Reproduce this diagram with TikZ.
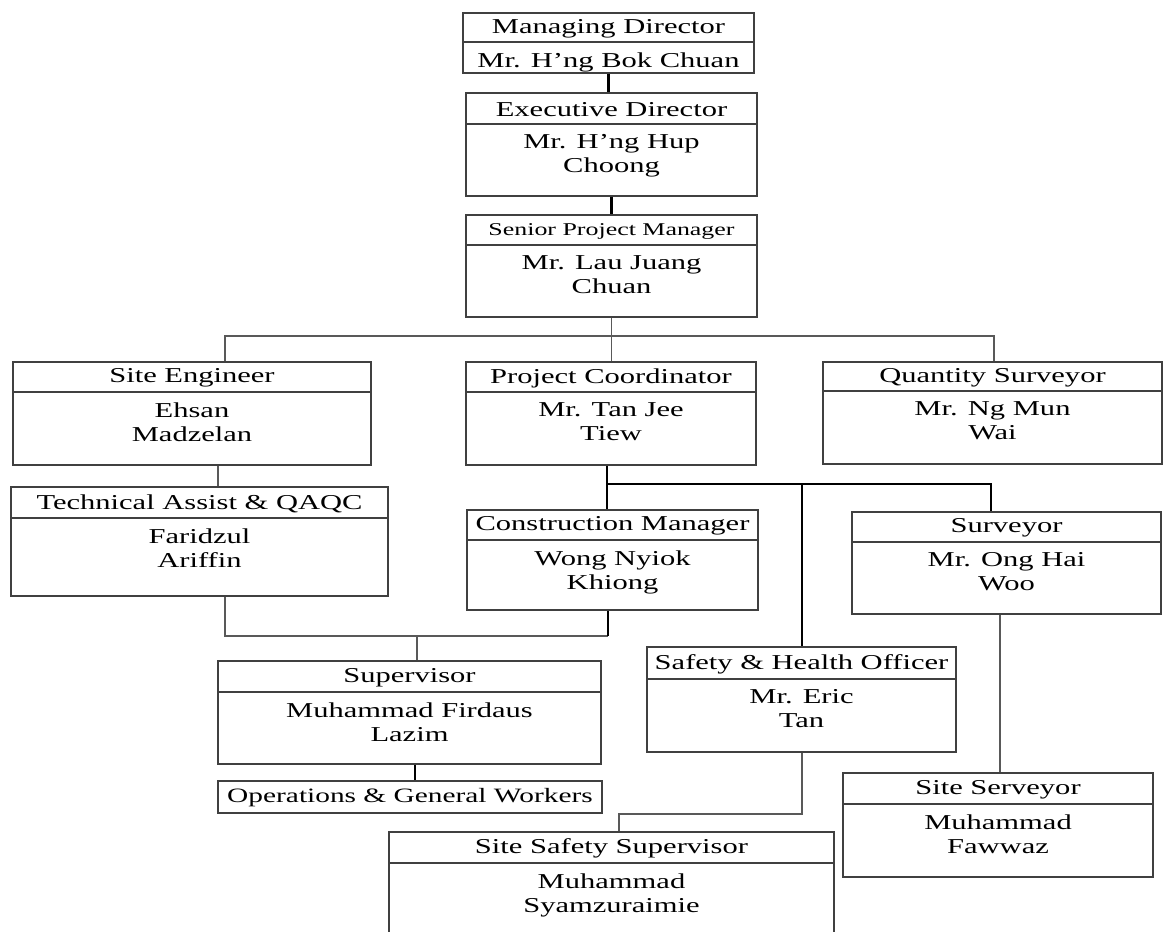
\documentclass[tikz,border=0pt]{standalone}
\usepackage{fontspec}
\setmainfont[FakeStretch=1.44]{Liberation Serif}
\usetikzlibrary{fit,calc}
\tikzset{
  boxpart/.style={draw=black!75, line width=0.6pt, inner sep=0pt},
  ttlfont/.style={font=\fontsize{10.6}{12}\selectfont, inner sep=0pt},
  smallttl/.style={font=\fontsize{9}{11}\selectfont, inner sep=0pt},
  opsfont/.style={font=\fontsize{10.2}{12}\selectfont, inner sep=0pt},
  nm/.style={font=\fontsize{10.6}{12}\selectfont, align=center, anchor=north, inner sep=0pt},
  thk/.style={draw=black, line width=1.4pt},
  thn/.style={draw=black!65, line width=0.7pt},
}
% #1 name, #2 x1, #3 y1, #4 x2, #5 ydiv, #6 y2, #7 title style, #8 title, #9 body
\newcommand\orgbox[9]{%
  \node[boxpart, fit={(#2,#3)(#4,#5)}] (#1T) {};
  \node[#7] (#1L) at ($(#1T.center)+(0,1)$) {#8};
  \node[boxpart, fit={(#2,#5)(#4,#6)}] (#1B) {};
  \node[nm] (#1N) at ($(#1B.north)+(0,11)$) {#9};
}
\begin{document}
\begin{tikzpicture}[x=0.5pt,y=-0.5pt]
\useasboundingbox (0,0) rectangle (1165,931);
\fill[white] (0,0) rectangle (1165,931);

\orgbox{md}{463}{13}{754}{42}{73}{ttlfont}{Managing Director}{Mr. H’ng Bok Chuan}
\orgbox{ed}{466}{93}{757}{124}{196}{ttlfont}{Executive Director}{Mr. H’ng Hup\\Choong}
\orgbox{sp}{466}{215}{757}{245}{317}{smallttl}{Senior Project Manager}{Mr. Lau Juang\\Chuan}
\orgbox{se}{13}{362}{371}{392}{465}{ttlfont}{Site Engineer}{Ehsan\\Madzelan}
\orgbox{pc}{466}{362}{756}{392}{465}{ttlfont}{Project Coordinator}{Mr. Tan Jee\\Tiew}
\orgbox{qs}{823}{362}{1162}{391}{464}{ttlfont}{Quantity Surveyor}{Mr. Ng Mun\\Wai}
\orgbox{ta}{11}{487}{388}{518}{596}{ttlfont}{Technical Assist \& QAQC}{Faridzul\\Ariffin}
\orgbox{cm}{467}{510}{758}{540}{610}{ttlfont}{Construction Manager}{Wong Nyiok\\Khiong}
\orgbox{sv}{852}{512}{1161}{542}{614}{ttlfont}{Surveyor}{Mr. Ong Hai\\Woo}
\orgbox{su}{218}{661}{601}{692}{764}{ttlfont}{Supervisor}{Muhammad Firdaus\\Lazim}
\node[boxpart, fit={(218,781)(602,813)}] (ops) {};
\node[opsfont] (opsL) at ($(ops.center)+(0,1)$) {Operations \& General Workers};
\orgbox{sh}{647}{647}{956}{679}{752}{ttlfont}{Safety \& Health Officer}{Mr. Eric\\Tan}
\orgbox{ss}{843}{773}{1153}{804}{877}{ttlfont}{Site Serveyor}{Muhammad\\Fawwaz}
\orgbox{sss}{389}{832}{834}{863}{945}{ttlfont}{Site Safety Supervisor}{Muhammad\\Syamzuraimie}

% junction coordinates
\coordinate (bL) at (225,336);
\coordinate (bR) at (994,336);
\coordinate (c1) at (218,476);
\coordinate (b2L) at (225,636);
\coordinate (b2M) at (417,636);
\coordinate (b2R) at (608,636);
\coordinate (c2) at (415,772);
\coordinate (b3L) at (607,484);
\coordinate (b3M) at (802,484);
\coordinate (b3R) at (991,484);
\coordinate (c3) at (1000,700);
\coordinate (c4) at (802,814);
\coordinate (c5) at (619,814);

% connectors
\draw[thk] (mdB.south) -- (mdB.south |- edT.north);
\draw[thk] (edB.south) -- (edB.south |- spT.north);
\draw[thn] (spB.south) -- (spB.south |- pcT.north);
\draw[thn] (bL |- seT.north) -- (bL) -- (bR) -- (bR |- qsT.north);
\draw[thn] (c1 |- seB.south) -- (c1 |- taT.north);
\draw[thn] (b2L |- taB.south) -- (b2L) -- (b2R);
\draw[thk] (b2R) -- (b2R |- cmB.south);
\draw[thn] (b2M) -- (b2M |- suT.north);
\draw[thk] (c2 |- suB.south) -- (c2 |- ops.north);
\draw[thk] (b3L |- pcB.south) -- (b3L |- cmT.north);
\draw[thk] (b3L) -- (b3R) -- (b3R |- svT.north);
\draw[thk] (b3M) -- (b3M |- shT.north);
\draw[thn] (c3 |- svB.south) -- (c3 |- ssT.north);
\draw[thn] (c4 |- shB.south) -- (c4) -- (c5) -- (c5 |- sssT.north);
\end{tikzpicture}
\end{document}
